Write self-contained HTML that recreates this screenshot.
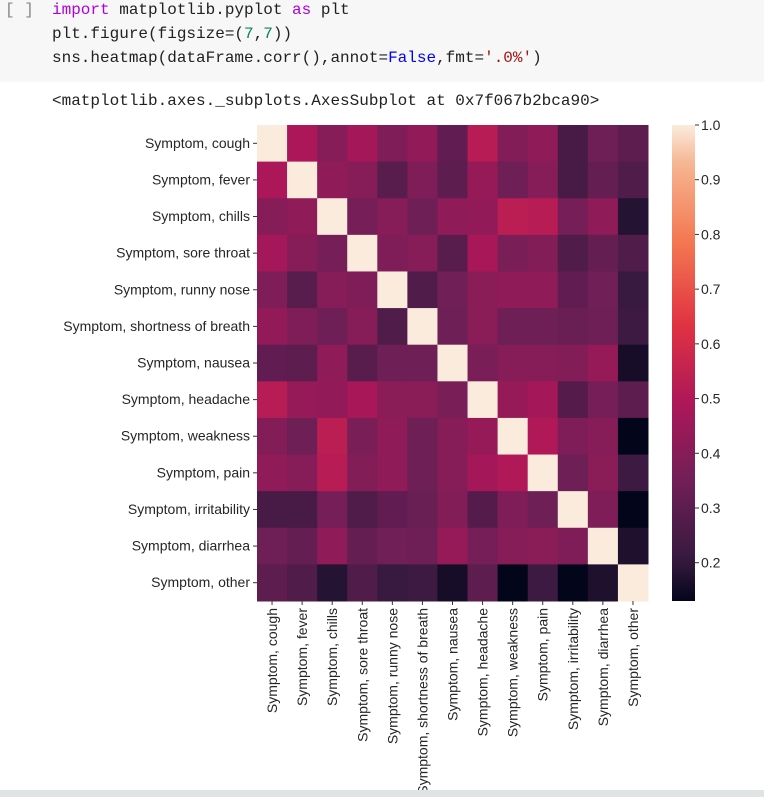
<!DOCTYPE html>
<html><head><meta charset="utf-8"><style>
body{margin:0;width:764px;height:797px;background:#fff;position:relative;overflow:hidden;font-family:"Liberation Sans",sans-serif}
.code{position:absolute;left:0;top:0;width:764px;height:82px;background:#f7f7f7}
.mono{font-family:"Liberation Mono","DejaVu Sans Mono",monospace;font-size:16px;color:#212121;position:absolute;white-space:pre}
.kw{color:#af00db}.num{color:#098658}.bl{color:#0000ff}.str{color:#a31515}
</style></head><body>
<div class="code"></div>
<div class="mono" style="left:5px;top:1px;color:#888">[ ]</div>
<div class="mono" style="left:52px;top:1px"><span class="kw">import</span> matplotlib.pyplot <span class="kw">as</span> plt</div>
<div class="mono" style="left:52px;top:25px">plt.figure(figsize=(<span class="num">7</span>,<span class="num">7</span>))</div>
<div class="mono" style="left:52px;top:49px">sns.heatmap(dataFrame.corr(),annot=<span class="bl">False</span>,fmt=<span class="str">'.0%'</span>)</div>
<div class="mono" style="left:52px;top:92px">&lt;matplotlib.axes._subplots.AxesSubplot at 0x7f067b2bca90&gt;</div>
<svg id="chart" width="764" height="797" style="position:absolute;left:0;top:0"></svg>
<div style="position:absolute;left:0;top:790px;width:764px;height:7px;background:#dfe3e3"></div>
<script>
const labels=["Symptom, cough","Symptom, fever","Symptom, chills","Symptom, sore throat","Symptom, runny nose","Symptom, shortness of breath","Symptom, nausea","Symptom, headache","Symptom, weakness","Symptom, pain","Symptom, irritability","Symptom, diarrhea","Symptom, other"];
const values=[
[1,.49,.40,.47,.38,.43,.31,.52,.39,.42,.25,.34,.30],
[.49,1,.42,.40,.29,.38,.30,.44,.34,.40,.25,.32,.27],
[.40,.42,1,.36,.40,.34,.42,.43,.53,.52,.36,.42,.18],
[.47,.40,.36,1,.38,.40,.29,.48,.37,.39,.27,.32,.27],
[.38,.29,.40,.38,1,.27,.35,.41,.42,.42,.31,.35,.21],
[.43,.38,.34,.40,.27,1,.34,.41,.34,.34,.33,.34,.22],
[.31,.30,.42,.29,.34,.34,1,.37,.40,.40,.39,.44,.16],
[.52,.44,.43,.48,.41,.41,.37,1,.44,.47,.28,.36,.30],
[.39,.34,.53,.37,.42,.34,.40,.44,1,.50,.38,.40,.12],
[.42,.40,.52,.39,.42,.34,.40,.47,.50,1,.34,.41,.22],
[.25,.25,.36,.27,.31,.33,.39,.28,.38,.34,1,.38,.13],
[.34,.32,.42,.32,.35,.34,.44,.36,.40,.41,.38,1,.17],
[.30,.27,.18,.27,.21,.22,.16,.30,.12,.22,.13,.17,1]];
const cbTicks=[0.2,0.3,0.4,0.5,0.6,0.7,0.8,0.9,1.0];
const vmin=0.13,vmax=1.0;
const stops=[[0,"#03051a"],[1/12,"#35193e"],[3/12,"#701f57"],[5/12,"#ad1759"],[7/12,"#e13342"],[9/12,"#f37651"],[11/12,"#f6b48f"],[1,"#faebdd"]];
function hx(h){return [1,3,5].map(i=>parseInt(h.substr(i,2),16));}
function cmap(v){let t=Math.max(0,Math.min(1,(v-vmin)/(vmax-vmin)));
for(let i=1;i<stops.length;i++){if(t<=stops[i][0]){const a=stops[i-1],b=stops[i];const f=(t-a[0])/(b[0]-a[0]);const ca=hx(a[1]),cb=hx(b[1]);return "rgb("+ca.map((c,k)=>Math.round(c+(cb[k]-c)*f)).join(",")+")";}}return stops[7][1];}
const L=257,T=125,W=391,H=476,n=labels.length,cw=W/n,ch=H/n;
const xs=i=>L+i*cw, ys=i=>T+i*ch;
const svg=document.getElementById('chart');const NS="http://www.w3.org/2000/svg";
function mk(tag,at){const e=document.createElementNS(NS,tag);for(const k in at)e.setAttribute(k,at[k]);svg.appendChild(e);return e;}
values.forEach((row,r)=>row.forEach((v,c)=>{const e=mk('rect',{x:xs(c),y:ys(r),width:cw+0.5,height:ch+0.5,fill:cmap(v)});

}));
labels.forEach((lb,i)=>{
const cy=ys(i)+ch/2;
mk('line',{x1:L-4,x2:L,y1:cy,y2:cy,stroke:'#333','stroke-width':1});
const t=mk('text',{x:L-7,y:cy+4.5,'text-anchor':'end','font-size':14,fill:'#262626','font-family':'Liberation Sans, sans-serif'});t.textContent=lb;


const cx=xs(i)+cw/2;
mk('line',{x1:cx,x2:cx,y1:T+H,y2:T+H+4,stroke:'#333','stroke-width':1});
const u=mk('text',{x:0,y:0,'text-anchor':'end','font-size':14,fill:'#262626','font-family':'Liberation Sans, sans-serif',transform:`translate(${cx+5},${T+H+7}) rotate(-90)`});u.textContent=lb;


});
const CX=672,CW=23;
const defs=mk('defs',{});const g=document.createElementNS(NS,'linearGradient');g.setAttribute('id','cg');g.setAttribute('x1','0');g.setAttribute('y1','1');g.setAttribute('x2','0');g.setAttribute('y2','0');defs.appendChild(g);
for(let i=0;i<=40;i++){const s=document.createElementNS(NS,'stop');s.setAttribute('offset',i/40);s.setAttribute('stop-color',cmap(vmin+(vmax-vmin)*i/40));g.appendChild(s);}
const cb=mk('rect',{x:CX,y:T,width:CW,height:H,fill:'url(#cg)'});


const cy=v=>T+H-(v-vmin)/(vmax-vmin)*H;
cbTicks.forEach(v=>{const y=cy(v);mk('line',{x1:CX+CW,x2:CX+CW+4,y1:y,y2:y,stroke:'#333'});
const t=mk('text',{x:CX+CW+6,y:y+5,'font-size':14,fill:'#262626','font-family':'Liberation Sans, sans-serif'});t.textContent=v.toFixed(1);

});
</script>
</body></html>
